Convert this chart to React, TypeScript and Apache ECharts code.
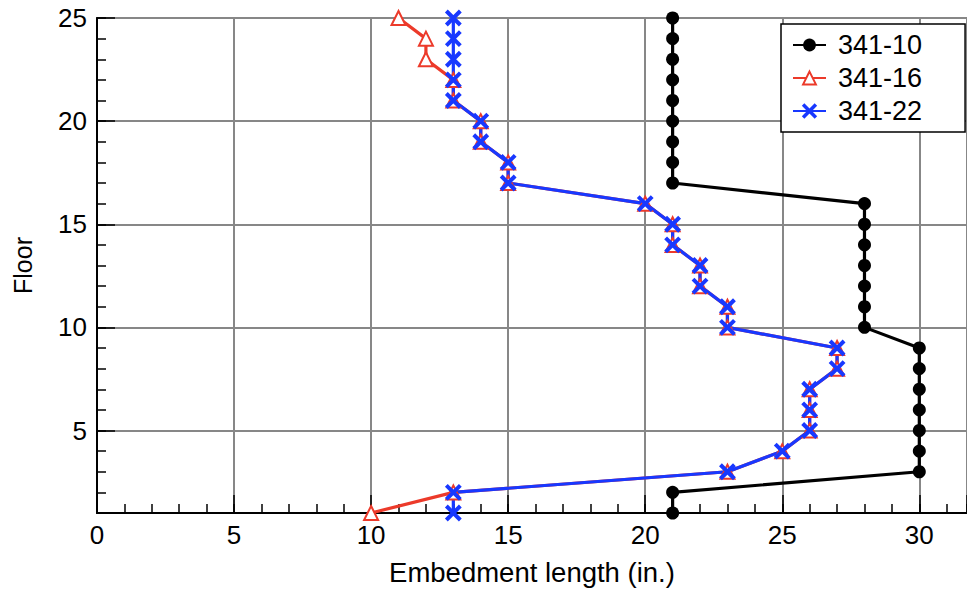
import React, { useEffect, useRef } from "react";
import * as echarts from "echarts";

const floors = [1, 2, 3, 4, 5, 6, 7, 8, 9, 10, 11, 12, 13, 14, 15, 16, 17, 18, 19, 20, 21, 22, 23, 24, 25];
const s10 = [21, 21, 30, 30, 30, 30, 30, 30, 30, 28, 28, 28, 28, 28, 28, 28, 21, 21, 21, 21, 21, 21, 21, 21, 21];
const s16 = [10, 13, 23, 25, 26, 26, 26, 27, 27, 23, 23, 22, 22, 21, 21, 20, 15, 15, 14, 14, 13, 13, 12, 12, 11];
const s22 = [13, 13, 23, 25, 26, 26, 26, 27, 27, 23, 23, 22, 22, 21, 21, 20, 15, 15, 14, 14, 13, 13, 13, 13, 13];
const seriesNames = ["341-10", "341-16", "341-22"];
const xName = "Embedment length (in.)";
const yName = "Floor";

const FONT = '"Liberation Sans", Arial, Helvetica, sans-serif';
const RED = "#ec3a2a";
const BLUE = "#1838ff";

export default function App() {
  const ref = useRef<HTMLDivElement>(null);
  useEffect(() => {
    if (!ref.current) return;
    const chart = echarts.init(ref.current, null, { renderer: "svg" });
    const pts = (xs: number[]) => xs.map((v, i) => [v, floors[i]]);
    const labelFmt = (v: number) => (Math.abs(v % 5) < 1e-9 ? String(v) : "");
    chart.setOption({
      animation: false,
      textStyle: { fontFamily: FONT },
      grid: {
        left: 97,
        top: 18,
        right: 0,
        bottom: 83,
        show: true,
        borderColor: "#000",
        borderWidth: 1.5,
        outerBoundsMode: "none",
      },
      legend: {
        left: 781,
        top: 24,
        orient: "vertical",
        padding: [7, 43, 7, 11],
        itemWidth: 33,
        itemHeight: 16,
        itemGap: 5,
        backgroundColor: "#fff",
        borderColor: "#000",
        borderWidth: 1.5,
        borderRadius: 0,
        selectedMode: false,
        textStyle: { fontSize: 27, color: "#000", fontFamily: FONT, lineHeight: 28, padding: [0, 0, 0, 7] },
        data: [
          { name: seriesNames[0] },
          { name: seriesNames[1], itemStyle: { borderWidth: 2.5 } },
          { name: seriesNames[2], itemStyle: { borderWidth: 3.5, borderColor: BLUE } },
        ],
      },
      xAxis: [
        {
          type: "value",
          min: 0,
          max: 31.74,
          interval: 1,
          position: "bottom",
          axisLine: { show: true, lineStyle: { color: "#000", width: 2 } },
          axisTick: { show: true, inside: true, length: 9, lineStyle: { color: "#000", width: 1.5 } },
          axisLabel: { show: false },
          splitLine: { show: false },
        },
        {
          type: "value",
          min: 0,
          max: 31.74,
          interval: 5,
          position: "bottom",
          axisLine: { show: false },
          axisTick: { show: true, inside: true, length: 18, lineStyle: { color: "#000", width: 1.5 } },
          axisLabel: { show: true, fontSize: 26, color: "#000", fontFamily: FONT, margin: 9, formatter: labelFmt },
          splitLine: { show: true, lineStyle: { color: "#878787", width: 2 } },
          name: xName,
          nameLocation: "middle",
          nameGap: 45,
          nameTextStyle: { fontSize: 27.5, color: "#000", fontFamily: FONT },
        },
      ],
      yAxis: [
        {
          type: "value",
          min: 1,
          max: 25,
          interval: 1,
          position: "left",
          axisLine: { show: true, lineStyle: { color: "#000", width: 2 } },
          axisTick: { show: true, inside: true, length: 9, lineStyle: { color: "#000", width: 1.5 } },
          axisLabel: { show: false },
          splitLine: { show: false },
        },
        {
          type: "value",
          min: 1,
          max: 25,
          splitNumber: 5,
          minInterval: 5,
          maxInterval: 5,
          position: "left",
          axisLine: { show: false },
          axisTick: { show: true, inside: true, length: 18, lineStyle: { color: "#000", width: 1.5 } },
          axisLabel: { show: true, fontSize: 26, color: "#000", fontFamily: FONT, margin: 10, formatter: labelFmt },
          splitLine: { show: true, lineStyle: { color: "#878787", width: 2 } },
          name: yName,
          nameLocation: "middle",
          nameGap: 62,
          nameTextStyle: { fontSize: 25, color: "#000", fontFamily: FONT },
        },
      ],
      series: [
        {
          name: seriesNames[0],
          type: "line",
          xAxisIndex: 0,
          yAxisIndex: 0,
          data: pts(s10),
          symbol: "circle",
          symbolSize: 13,
          clip: false,
          silent: true,
          lineStyle: { color: "#000", width: 3.2 },
          itemStyle: { color: "#000" },
        },
        {
          name: seriesNames[1],
          type: "line",
          xAxisIndex: 0,
          yAxisIndex: 0,
          data: pts(s16),
          symbol: "emptyTriangle",
          symbolSize: 14,
          clip: false,
          silent: true,
          lineStyle: { color: RED, width: 3.2 },
          itemStyle: { color: RED, borderColor: RED, borderWidth: 2.5 },
        },
        {
          name: seriesNames[2],
          type: "line",
          xAxisIndex: 0,
          yAxisIndex: 0,
          data: pts(s22),
          symbol: "path://M0 0L10 10M10 0L0 10",
          symbolSize: 14,
          clip: false,
          silent: true,
          lineStyle: { color: BLUE, width: 3.2 },
          itemStyle: { color: BLUE, borderColor: BLUE, borderWidth: 4 },
        },
      ],
    });
    return () => chart.dispose();
  }, []);
  return (
    <div
      ref={ref}
      style={{ position: "fixed", left: 0, top: 0, width: 967, height: 596, background: "#fff" }}
    />
  );
}
